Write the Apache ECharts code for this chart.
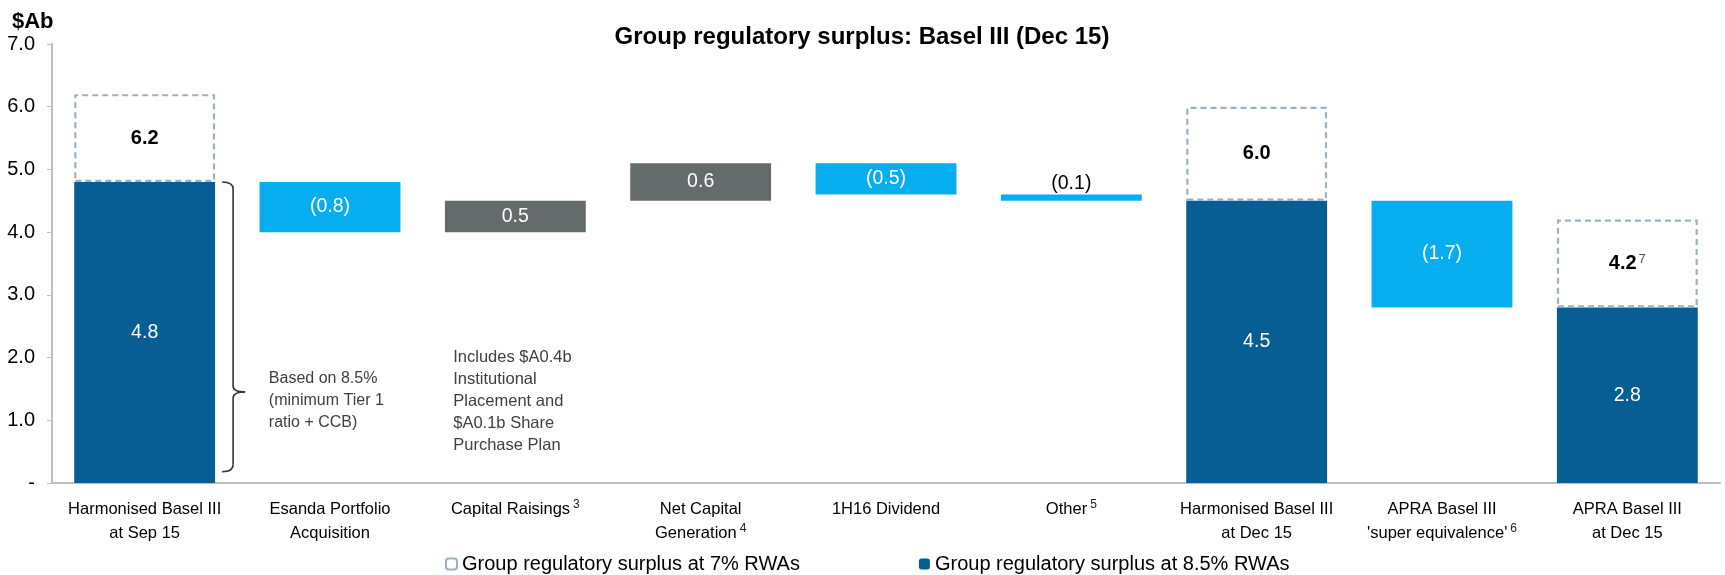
<!DOCTYPE html>
<html>
<head>
<meta charset="utf-8">
<script src="https://cdn.jsdelivr.net/npm/echarts@6/dist/echarts.min.js"></script>
<style>
html,body{margin:0;padding:0;background:#fff;}
#main{width:1725px;height:575px;}
</style>
</head>
<body>
<div id="main"></div>
<script>
// ---- data ----
const categories = ['Harmonised Basel III\nat Sep 15', 'Esanda Portfolio\nAcquisition', 'Capital Raisings', 'Net Capital\nGeneration', '1H16 Dividend', 'Other', 'Harmonised Basel III\nat Dec 15', "APRA Basel III\n'super equivalence'", 'APRA Basel III\nat Dec 15'];
const categoryNotes = [null, null, '3', '4', null, '5', null, '6', null];
const surplus85 = [4.8, null, null, null, null, null, 4.5, null, 2.8];
const surplus7 = [6.2, null, null, null, null, null, 6.0, null, 4.2];
const surplus7Notes = [null, null, null, null, null, null, null, null, '7'];
const changes = [null, -0.8, 0.5, 0.6, -0.5, -0.1, null, -1.7, null];
const yTicks = [0, 1, 2, 3, 4, 5, 6, 7];
const legendNames = ['Group regulatory surplus at 7% RWAs', 'Group regulatory surplus at 8.5% RWAs'];
const noteBased = ['Based on 8.5%', '(minimum Tier 1', 'ratio + CCB)'];
const noteRaisings = ['Includes $A0.4b', 'Institutional', 'Placement and', '$A0.1b Share', 'Purchase Plan'];

// ---- colours ----
const DARK = '#065E95', LIGHT = '#07AEEF', GREY = '#656A6B', DASH = '#9AB2C2';
const FONT = 'Liberation Sans, Arial, sans-serif';

// ---- build waterfall series ----
const base = [], dec = [], inc = [], dark = [], dashed = [];
let level = 0;
for (let i = 0; i < categories.length; i++) {
  if (surplus85[i] != null) {
    level = surplus85[i];
    base.push('-'); dec.push('-'); inc.push('-');
    dark.push(surplus85[i]);
    dashed.push(+(surplus7[i] - surplus85[i]).toFixed(2));
  } else {
    const c = changes[i];
    dark.push('-'); dashed.push('-');
    if (c < 0) {
      base.push(+(level + c).toFixed(2));
      dec.push(-c); inc.push('-');
    } else {
      base.push(+level.toFixed(2));
      inc.push(c); dec.push('-');
    }
    level = +(level + c).toFixed(2);
  }
}
const decData = dec.map((v, i) => {
  if (v === '-') return '-';
  if (Math.abs(v) < 0.2) {
    return { value: v, label: { position: 'top', color: '#000', distance: 1 } };
  }
  return v;
});

const chart = echarts.init(document.getElementById('main'));
const option = {
  animation: false,
  textStyle: { fontFamily: FONT },
  title: [
    { text: 'Group regulatory surplus: Basel III (Dec 15)', left: 857, textAlign: 'center', top: 20,
      textStyle: { fontFamily: FONT, fontSize: 24, fontWeight: 'bold', color: '#000' } },
    { text: '$Ab', left: 7, top: 6,
      textStyle: { fontFamily: FONT, fontSize: 22, fontWeight: 'bold', color: '#000' } }
  ],
  legend: {
    data: legendNames,
    left: 440, top: 549,
    itemWidth: 11, itemHeight: 11, itemGap: 119,
    textStyle: { fontFamily: FONT, fontSize: 20, color: '#000' }
  },
  grid: { left: 52, right: 5, top: 44, bottom: 92 },
  xAxis: {
    type: 'category',
    data: categories,
    axisTick: { show: false },
    axisLine: { lineStyle: { color: '#BFBFBF', width: 2 } },
    axisLabel: {
      interval: 0, margin: 14, color: '#000', fontSize: 16.5, lineHeight: 24,
      fontFamily: FONT,
      formatter: (v, i) => categoryNotes[i] ? v + '{sup|' + categoryNotes[i] + '}' : v,
      rich: { sup: { fontSize: 12, color: '#222', padding: [0, 0, 9, 3], fontFamily: FONT } }
    }
  },
  yAxis: {
    type: 'value', min: 0, max: 7, interval: 1,
    splitLine: { show: false },
    axisLine: { show: true, lineStyle: { color: '#BFBFBF', width: 2 } },
    axisTick: { show: true, length: 5, lineStyle: { color: '#BFBFBF' } },
    axisLabel: {
      color: '#000', fontSize: 20, margin: 17, fontFamily: FONT,
      formatter: v => yTicks.indexOf(v) < 0 ? '' : (v === 0 ? '-' : v.toFixed(1))
    }
  },
  series: [
    { name: 'base', type: 'bar', stack: 'w', data: base, silent: true,
      itemStyle: { color: 'transparent' }, barCategoryGap: '24%' },
    { name: legendNames[1], type: 'bar', stack: 'w', data: dark,
      itemStyle: { color: DARK },
      label: { show: true, position: 'inside', color: '#fff', fontSize: 19.5, fontFamily: FONT,
        formatter: p => p.value.toFixed(1) } },
    { name: 'decrease', type: 'bar', stack: 'w', data: decData,
      itemStyle: { color: LIGHT },
      label: { show: true, position: 'inside', color: '#fff', fontSize: 19.5, fontFamily: FONT,
        formatter: p => '(' + p.value.toFixed(1) + ')' } },
    { name: 'increase', type: 'bar', stack: 'w', data: inc,
      itemStyle: { color: GREY },
      label: { show: true, position: 'inside', color: '#fff', fontSize: 19.5, fontFamily: FONT,
        formatter: p => p.value.toFixed(1) } },
    { name: legendNames[0], type: 'bar', stack: 'w', data: dashed,
      itemStyle: { color: 'rgba(255,255,255,0)', borderColor: DASH, borderWidth: 2.2, borderType: [6, 4] },
      label: { show: true, position: 'inside', color: '#000', fontFamily: FONT,
        formatter: p => '{b|' + surplus7[p.dataIndex].toFixed(1) + '}' +
          (surplus7Notes[p.dataIndex] ? '{s|' + surplus7Notes[p.dataIndex] + '}' : ''),
        rich: {
          b: { fontSize: 20, fontWeight: 'bold', color: '#000', fontFamily: FONT },
          s: { fontSize: 13, color: '#555', padding: [0, 0, 9, 2], fontFamily: FONT }
        } } }
  ]
};
chart.setOption(option);

// ---- annotations positioned through the chart's own scales ----
function px(ci, v) { return chart.convertToPixel({ gridIndex: 0 }, [ci, v]); }
const p0 = px(0, 0), p1 = px(1, 0);
const band = p1[0] - p0[0];
const barRight = p0[0] + band * 0.38;
const yTop = px(0, surplus85[0])[1];
const yBot = px(0, 0.18)[1];
const yMid = px(0, 1.45)[1];
const bx = barRight + 7, bxs = bx + 11, btip = bxs + 12;
const braceStyle = { stroke: '#333', lineWidth: 1.6, fill: 'none' };
const braceParts = [
  { type: 'bezierCurve', shape: { x1: bx, y1: yTop, cpx1: bxs, cpy1: yTop, x2: bxs, y2: yTop + 7 }, style: braceStyle },
  { type: 'line', shape: { x1: bxs, y1: yTop + 7, x2: bxs, y2: yMid - 6 }, style: braceStyle },
  { type: 'bezierCurve', shape: { x1: bxs, y1: yMid - 6, cpx1: bxs, cpy1: yMid, x2: btip, y2: yMid }, style: braceStyle },
  { type: 'bezierCurve', shape: { x1: btip, y1: yMid, cpx1: bxs, cpy1: yMid, x2: bxs, y2: yMid + 6 }, style: braceStyle },
  { type: 'line', shape: { x1: bxs, y1: yMid + 6, x2: bxs, y2: yBot - 7 }, style: braceStyle },
  { type: 'bezierCurve', shape: { x1: bxs, y1: yBot - 7, cpx1: bxs, cpy1: yBot, x2: bx, y2: yBot }, style: braceStyle }
];

const lh = 22;
const basedX = p0[0] + band * 1.17 - band / 2;
const basedY = px(0, 1.67)[1];
const raiseX = p0[0] + band * 2.165 - band / 2;
const raiseY = px(0, 2.0)[1];

chart.setOption({
  graphic: braceParts.concat([
    { type: 'text', x: basedX, y: basedY - lh / 2,
      style: { text: noteBased.join('\n'), font: '16px ' + FONT, lineHeight: lh, fill: '#404040' } },
    { type: 'text', x: raiseX, y: raiseY - lh / 2,
      style: { text: noteRaisings.join('\n'), font: '16.5px ' + FONT, lineHeight: lh, fill: '#404040' } }
  ])
});
</script>
</body>
</html>
